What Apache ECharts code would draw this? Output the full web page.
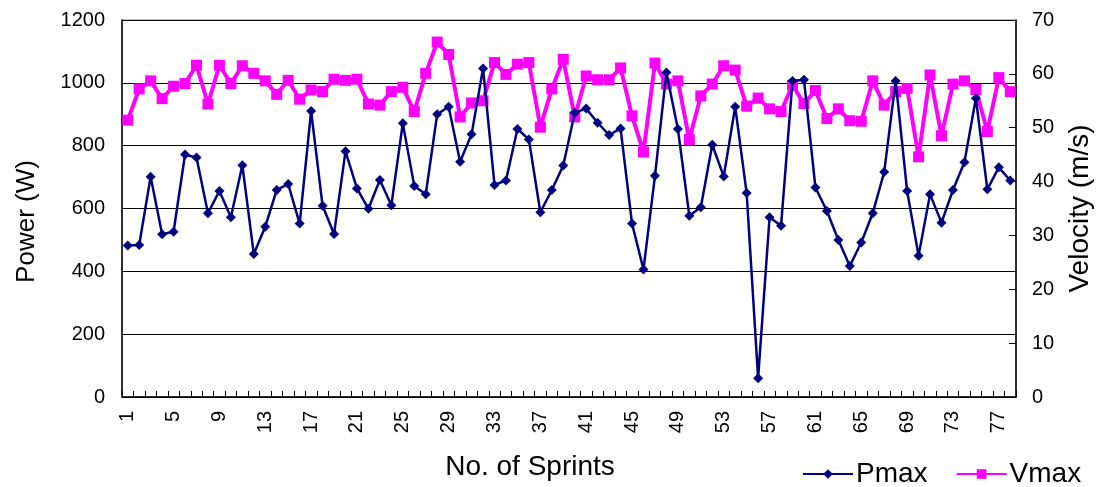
<!DOCTYPE html>
<html>
<head>
<meta charset="utf-8">
<script src="https://cdn.jsdelivr.net/npm/echarts@6/dist/echarts.min.js"></script>
<style>
html,body{margin:0;padding:0;background:#fff;}
#chart{width:1099px;height:487px;}
</style>
</head>
<body>
<div id="chart"></div>
<script>
const sprints = ['1','2','3','4','5','6','7','8','9','10','11','12','13','14','15','16','17','18','19','20',
'21','22','23','24','25','26','27','28','29','30','31','32','33','34','35','36','37','38','39','40',
'41','42','43','44','45','46','47','48','49','50','51','52','53','54','55','56','57','58','59','60',
'61','62','63','64','65','66','67','68','69','70','71','72','73','74','75','76','77','78'];

const pmax = [482,484,701,518,526,772,762,585,656,572,738,455,542,659,678,552,910,609,519,782,
664,599,691,610,871,672,645,900,924,749,836,1046,675,689,853,820,588,659,737,905,
918,873,834,855,552,406,704,1033,853,577,604,803,702,924,649,60,572,545,1006,1010,
667,592,500,417,492,585,716,1006,656,450,645,555,659,747,951,661,731,689];

const vmax = [51.4,57.2,58.7,55.4,57.7,58.2,61.6,54.4,61.6,58.2,61.5,60.1,58.7,56.2,58.8,55.3,57.0,56.7,59.0,58.8,
59.0,54.4,54.2,56.7,57.5,53.0,60.1,65.9,63.6,52.0,54.6,55.0,62.1,59.9,61.8,62.1,50.1,57.2,62.7,52.0,
59.6,58.9,58.9,61.1,52.2,45.5,62.0,58.1,58.7,47.8,55.9,58.1,61.5,60.7,54.0,55.5,53.5,53.0,57.9,54.5,
56.9,51.7,53.5,51.3,51.2,58.7,54.2,56.7,57.3,44.6,59.8,48.5,58.1,58.7,57.1,49.3,59.3,56.7];

const powerTicks = {min: 0, max: 1200, interval: 200};
const velTicks = {min: 0, max: 70, interval: 10};

const FONT = '"Liberation Sans", Arial, sans-serif';
const plain = v => String(v);
const chart = echarts.init(document.getElementById('chart'), null, {renderer: 'canvas'});
chart.setOption({
  animation: false,
  backgroundColor: '#ffffff',
  textStyle: {fontFamily: FONT, color: '#000'},
  grid: {left: 122, right: 83, top: 20, bottom: 90, containLabel: false, outerBoundsMode: 'none',
         show: true, borderColor: '#808080', borderWidth: 1, backgroundColor: 'transparent'},
  legend: {
    data: ['Pmax', 'Vmax'],
    left: 797, top: 455,
    itemWidth: 50, itemHeight: 12, itemGap: 28,
    textStyle: {fontFamily: FONT, fontSize: 28, color: '#000', padding: [0, 0, 0, -2]}
  },
  xAxis: {
    type: 'category',
    data: sprints,
    boundaryGap: true,
    name: 'No. of Sprints',
    nameLocation: 'middle',
    nameGap: 56,
    nameTextStyle: {fontFamily: FONT, fontSize: 28, color: '#000', padding: [0, 78, 0, 0]},
    axisLine: {lineStyle: {color: '#000', width: 1.5}},
    axisTick: {show: true, inside: true, length: 6, interval: 0, lineStyle: {color: '#000'}},
    axisLabel: {interval: 3, rotate: 90, margin: 14, fontFamily: FONT, fontSize: 20, color: '#000'},
    splitLine: {show: false}
  },
  yAxis: [
    {
      type: 'value',
      min: powerTicks.min, max: powerTicks.max, interval: powerTicks.interval,
      name: 'Power (W)',
      nameLocation: 'middle',
      nameGap: 82,
      nameTextStyle: {fontFamily: FONT, fontSize: 26, color: '#000', padding: [0, 26, 0, 0]},
      axisLine: {show: true, lineStyle: {color: '#000', width: 1.5}},
      axisTick: {show: true, inside: true, length: 7, lineStyle: {color: '#000'}},
      axisLabel: {margin: 17, fontFamily: FONT, fontSize: 20, color: '#000', formatter: plain},
      splitLine: {show: true, lineStyle: {color: '#000', width: 1}}
    },
    {
      type: 'value',
      position: 'right',
      min: velTicks.min, max: velTicks.max, interval: velTicks.interval,
      name: 'Velocity (m/s)',
      nameLocation: 'middle',
      nameGap: 50,
      nameRotate: 90,
      nameTextStyle: {fontFamily: FONT, fontSize: 28, color: '#000'},
      axisLine: {show: true, lineStyle: {color: '#000', width: 1.5}},
      axisTick: {show: true, inside: true, length: 7, lineStyle: {color: '#000'}},
      axisLabel: {margin: 16, fontFamily: FONT, fontSize: 20, color: '#000', formatter: plain},
      splitLine: {show: false}
    }
  ],
  series: [
    {
      name: 'Vmax',
      type: 'line',
      yAxisIndex: 1,
      data: vmax,
      z: 2,
      symbol: 'rect',
      symbolSize: 11,
      showAllSymbol: true,
      itemStyle: {color: '#FF00FF'},
      lineStyle: {color: '#FF00FF', width: 4}
    },
    {
      name: 'Pmax',
      type: 'line',
      yAxisIndex: 0,
      data: pmax,
      z: 3,
      symbol: 'diamond',
      symbolSize: 10,
      showAllSymbol: true,
      itemStyle: {color: '#000080'},
      lineStyle: {color: '#000080', width: 2.5}
    }
  ]
});
</script>
</body>
</html>
